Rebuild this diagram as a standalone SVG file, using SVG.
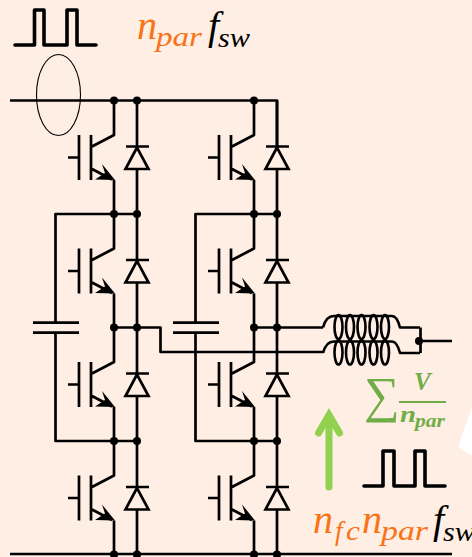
<svg xmlns="http://www.w3.org/2000/svg" width="472" height="557" viewBox="0 0 472 557">
<style>
.w{fill:none;stroke:#000;stroke-width:2.7;stroke-linejoin:round}
.t{fill:none;stroke:#000;stroke-width:2.7;stroke-linejoin:miter}
.p{fill:none;stroke:#000;stroke-width:3.6;stroke-linejoin:round;stroke-linecap:round}
.c{fill:none;stroke:#000;stroke-width:2.6}
.d{fill:#000}
text{font-family:"Liberation Serif",serif;font-style:italic}
.o{fill:#F97316}
.k{fill:#000}
.g{fill:#70AD47;font-weight:bold}
</style>
<defs>
<g id="cell">
<path class="w" d="M68 157.500H79M79 135V180M91 135V180M92 146.500L114 135V100.500M92 169L112 179.500M114 180V214"/>
<polygon class="d" points="102,164 115,180 95,179.500 105,173"/>
<path class="w" d="M137 100.500V147M137 169V214M126 146.500H149"/>
<polygon class="t" points="137,147.500 125.500,169 148.500,169"/>
</g>
<g id="coil">
<path class="w" d="M323 327.500Q326 316 334 316H392Q397 316 400 327.500H420"/>
<ellipse class="c" cx="338.500" cy="327" rx="4" ry="12"/>
<ellipse class="c" cx="350" cy="327" rx="4" ry="12"/>
<ellipse class="c" cx="361.500" cy="327" rx="4" ry="12"/>
<ellipse class="c" cx="373.500" cy="327" rx="4" ry="12"/>
<ellipse class="c" cx="385" cy="327" rx="4" ry="12"/>
</g>
<g id="legdots">
<circle class="d" cx="114" cy="214" r="4"/><circle class="d" cx="137" cy="214" r="4"/>
<circle class="d" cx="114" cy="327.500" r="4"/><circle class="d" cx="137" cy="327.500" r="4"/>
<circle class="d" cx="114" cy="441" r="4"/><circle class="d" cx="137" cy="441" r="4"/>
<circle class="d" cx="114" cy="554.500" r="4"/><circle class="d" cx="137" cy="554.500" r="4"/>
</g>
</defs>
<rect id="background" width="472" height="557" fill="#FEEEE3"/>
<polygon id="white-corner" points="472,407 458,447 472,456" fill="#fff"/>
<g id="connectors">
<path class="w" d="M10 100.500H277V147M10 554H452"/>
<path class="w" d="M114 214H55.500V322.500M55.500 332.500V441H137"/>
<path class="w" d="M254 214H195.500V322.500M195.500 332.500V441H277"/>
<path class="w" d="M137 327.500H160.500V352H323M277 327.500H323"/>
<path class="w" d="M114 214H137M254 214H277M114 327.500H137M254 327.500H277"/>
<path class="w" d="M420.500 327.500V353M419 341H452"/>
</g>
<g id="leg1">
<use href="#cell"/><use href="#cell" y="113.500"/><use href="#cell" y="227"/><use href="#cell" y="340.500"/>
<circle class="d" cx="114" cy="100.500" r="4"/><circle class="d" cx="137" cy="100.500" r="4"/>
<use href="#legdots"/>
</g>
<g id="leg2">
<use href="#cell" x="140"/><use href="#cell" x="140" y="113.500"/><use href="#cell" x="140" y="227"/><use href="#cell" x="140" y="340.500"/>
<circle class="d" cx="254" cy="100.500" r="4"/>
<use href="#legdots" x="140"/>
</g>
<g id="capacitor1"><path class="w" d="M33 322.700H79M33 332.700H79"/></g>
<g id="capacitor2"><path class="w" d="M173 322.700H219M173 332.700H219"/></g>
<g id="inductor1"><use href="#coil"/></g>
<g id="inductor2"><use href="#coil" y="25.500"/></g>
<circle id="output-node" class="d" cx="419" cy="341" r="4"/>
<ellipse id="ellipse" cx="58.500" cy="95" rx="22" ry="40.500" fill="none" stroke="#000" stroke-width="1.100"/>
<g id="pulse1"><path class="p" d="M15 45H34.500V10H44V45H67V10H77V45H96"/></g>
<g id="pulse2"><path class="p" d="M364 486H383V451H394V486H415V451H425V486H445"/></g>
<g id="arrow"><path d="M329 487V415M318.500 433L329 415L339.500 433" fill="none" stroke="#92D050" stroke-width="7" stroke-linecap="round" stroke-linejoin="miter"/></g>
<g id="label-top">
<text class="o" x="137" y="39" font-size="40" textLength="20" lengthAdjust="spacingAndGlyphs">n</text>
<text class="o" x="156" y="46" font-size="27" textLength="46" lengthAdjust="spacingAndGlyphs">par</text>
<text class="k" x="208" y="39" font-size="40">f</text>
<text class="k" x="218" y="47" font-size="27" textLength="32" lengthAdjust="spacingAndGlyphs">sw</text>
</g>
<g id="label-sum">
<text x="364" y="412" font-size="50" style="font-style:normal;fill:#70AD47">∑</text>
<text class="g" x="414" y="390" font-size="25">V</text>
<rect x="399" y="401" width="47" height="2" fill="#70AD47"/>
<text class="g" x="400" y="422" font-size="24" textLength="16" lengthAdjust="spacingAndGlyphs">n</text>
<text class="g" x="415" y="427" font-size="19" textLength="30" lengthAdjust="spacingAndGlyphs">par</text>
</g>
<g id="label-bottom">
<text class="o" x="313" y="533" font-size="40" textLength="20" lengthAdjust="spacingAndGlyphs">n</text>
<text class="o" x="335" y="540" font-size="27">f</text>
<text class="o" x="346" y="540" font-size="27" textLength="14" lengthAdjust="spacingAndGlyphs">c</text>
<text class="o" x="362" y="533" font-size="40" textLength="20" lengthAdjust="spacingAndGlyphs">n</text>
<text class="o" x="381" y="540" font-size="27" textLength="47" lengthAdjust="spacingAndGlyphs">par</text>
<text class="k" x="433" y="533" font-size="40">f</text>
<text class="k" x="443" y="541" font-size="27" textLength="32" lengthAdjust="spacingAndGlyphs">sw</text>
</g>
</svg>
